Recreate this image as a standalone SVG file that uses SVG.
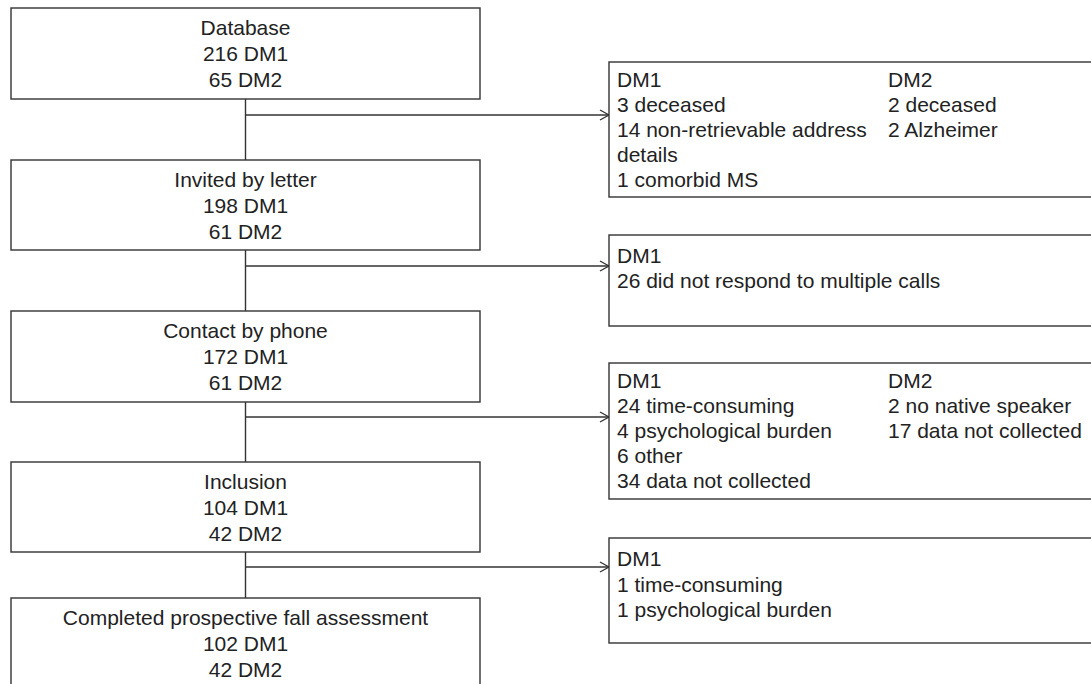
<svg xmlns="http://www.w3.org/2000/svg" width="1091" height="684" viewBox="0 0 1091 684">
<defs>
<style>
.box{fill:#fff;stroke:#333;stroke-width:1.4}
.t{font-family:"Liberation Sans",Arial,sans-serif;font-size:21px;fill:#222}
.c{text-anchor:middle}
.ln{fill:none;stroke:#333;stroke-width:1.4}
</style>
<marker id="ah" markerWidth="12" markerHeight="12" refX="10" refY="6" orient="auto" markerUnits="userSpaceOnUse">
<path d="M1,1 L10,6 L1,11" fill="none" stroke="#333" stroke-width="1.3"/>
</marker>
</defs>
<rect width="1091" height="684" fill="#fff"/>
<g id="connectors">
<path class="ln" d="M245.5,99 V160 M245.5,250 V311 M245.5,402 V462 M245.5,552 V598"/>
<path class="ln" d="M245.5,115 H609" marker-end="url(#ah)"/>
<path class="ln" d="M245.5,266 H609" marker-end="url(#ah)"/>
<path class="ln" d="M245.5,417 H609" marker-end="url(#ah)"/>
<path class="ln" d="M245.5,567 H609" marker-end="url(#ah)"/>
</g>
<g id="n-database">
<rect class="box" x="11" y="8" width="469" height="91"/>
<text class="t c" x="245.5" y="35">Database</text>
<text class="t c" x="245.5" y="61">216 DM1</text>
<text class="t c" x="245.5" y="87">65 DM2</text>
</g>
<g id="n-invited">
<rect class="box" x="11" y="160" width="469" height="90"/>
<text class="t c" x="245.5" y="187">Invited by letter</text>
<text class="t c" x="245.5" y="213">198 DM1</text>
<text class="t c" x="245.5" y="239">61 DM2</text>
</g>
<g id="n-contact">
<rect class="box" x="11" y="311" width="469" height="91"/>
<text class="t c" x="245.5" y="338">Contact by phone</text>
<text class="t c" x="245.5" y="364">172 DM1</text>
<text class="t c" x="245.5" y="390">61 DM2</text>
</g>
<g id="n-inclusion">
<rect class="box" x="11" y="462" width="469" height="90"/>
<text class="t c" x="245.5" y="489">Inclusion</text>
<text class="t c" x="245.5" y="515">104 DM1</text>
<text class="t c" x="245.5" y="541">42 DM2</text>
</g>
<g id="n-completed">
<rect class="box" x="11" y="598" width="469" height="100"/>
<text class="t c" x="245.5" y="625">Completed prospective fall assessment</text>
<text class="t c" x="245.5" y="651">102 DM1</text>
<text class="t c" x="245.5" y="677">42 DM2</text>
</g>
<g id="x-excluded1">
<rect class="box" x="609" y="62" width="500" height="135"/>
<text class="t" x="617" y="87">DM1</text>
<text class="t" x="617" y="112">3 deceased</text>
<text class="t" x="617" y="137">14 non-retrievable address</text>
<text class="t" x="617" y="162">details</text>
<text class="t" x="617" y="187">1 comorbid MS</text>
<text class="t" x="888" y="87">DM2</text>
<text class="t" x="888" y="112">2 deceased</text>
<text class="t" x="888" y="137">2 Alzheimer</text>
</g>
<g id="x-excluded2">
<rect class="box" x="609" y="235" width="500" height="91"/>
<text class="t" x="617" y="263">DM1</text>
<text class="t" x="617" y="288">26 did not respond to multiple calls</text>
</g>
<g id="x-excluded3">
<rect class="box" x="609" y="363" width="500" height="136"/>
<text class="t" x="617" y="388">DM1</text>
<text class="t" x="617" y="413">24 time-consuming</text>
<text class="t" x="617" y="438">4 psychological burden</text>
<text class="t" x="617" y="463">6 other</text>
<text class="t" x="617" y="488">34 data not collected</text>
<text class="t" x="888" y="388">DM2</text>
<text class="t" x="888" y="413">2 no native speaker</text>
<text class="t" x="888" y="438">17 data not collected</text>
</g>
<g id="x-excluded4">
<rect class="box" x="609" y="538" width="500" height="105"/>
<text class="t" x="617" y="566">DM1</text>
<text class="t" x="617" y="592">1 time-consuming</text>
<text class="t" x="617" y="617">1 psychological burden</text>
</g>
</svg>
